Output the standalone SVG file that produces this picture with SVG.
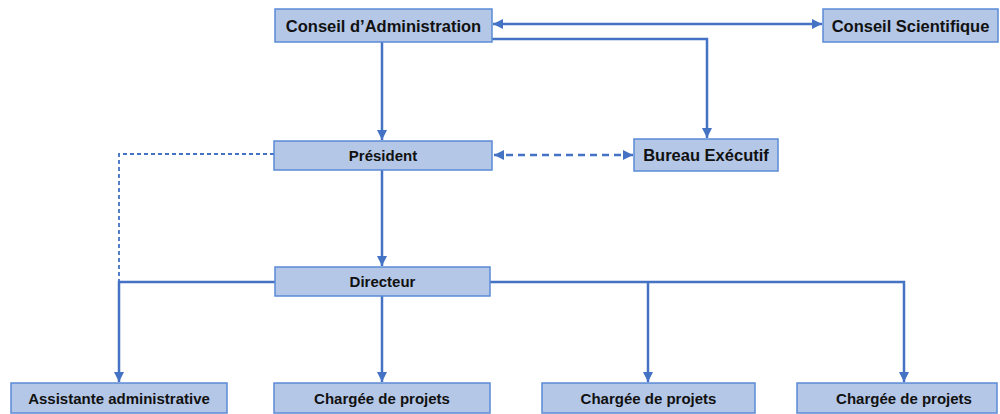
<svg xmlns="http://www.w3.org/2000/svg" width="1000" height="414" viewBox="0 0 1000 414">
<style>
.box{fill:#b4c7e7;stroke:#5b8bd6;stroke-width:1.5}
.t{font-family:"Liberation Sans",Arial,sans-serif;font-weight:bold;fill:#111;text-anchor:middle}
.big{font-size:16.5px}
.sm{font-size:15px}
.ln{fill:none;stroke:#4472c4;stroke-width:2.5}
.dash{fill:none;stroke:#4472c4;stroke-width:2.5;stroke-dasharray:7 5}
.dash2{fill:none;stroke:#4472c4;stroke-width:1.8;stroke-dasharray:4 3}
</style>
<defs>
<marker id="ah" viewBox="0 0 10 10" refX="10" refY="5" markerWidth="4" markerHeight="4" orient="auto-start-reverse" markerUnits="strokeWidth">
<path d="M0,0 L10,5 L0,10 z" fill="#4472c4"/>
</marker>
</defs>
<rect width="1000" height="414" fill="#ffffff"/>
<g id="connectors">
<line class="ln" x1="493" y1="24" x2="822" y2="24" marker-start="url(#ah)" marker-end="url(#ah)"/>
<polyline class="ln" points="492,39 707,39 707,138" marker-end="url(#ah)"/>
<line class="ln" x1="382" y1="42" x2="382" y2="140" marker-end="url(#ah)"/>
<line class="dash" x1="494" y1="155" x2="633" y2="155" marker-start="url(#ah)" marker-end="url(#ah)"/>
<polyline class="dash2" points="274,154 119,154 119,282"/>
<line class="ln" x1="382" y1="170" x2="382" y2="266" marker-end="url(#ah)"/>
<polyline class="ln" points="275,282 119,282 119,382" marker-end="url(#ah)"/>
<line class="ln" x1="382" y1="296" x2="382" y2="382" marker-end="url(#ah)"/>
<polyline class="ln" points="490,282 904,282 904,382" marker-end="url(#ah)"/>
<line class="ln" x1="648" y1="282" x2="648" y2="382" marker-end="url(#ah)"/>
</g>
<g id="ca"><rect class="box" x="275" y="9" width="217" height="33"/><text class="t big" x="383.5" y="31.5">Conseil d’Administration</text></g>
<g id="cs"><rect class="box" x="823" y="9" width="175" height="33"/><text class="t big" x="910.5" y="31.5">Conseil Scientifique</text></g>
<g id="president"><rect class="box" x="274" y="141" width="218" height="29"/><text class="t sm" x="383" y="161">Président</text></g>
<g id="bureau"><rect class="box" x="634" y="139" width="144" height="32"/><text class="t big" x="706" y="161">Bureau Exécutif</text></g>
<g id="directeur"><rect class="box" x="275" y="267" width="215" height="29"/><text class="t sm" x="382.5" y="287">Directeur</text></g>
<g id="assistante"><rect class="box" x="11" y="383" width="216" height="30"/><text class="t sm" x="119" y="403.5">Assistante administrative</text></g>
<g id="charge1"><rect class="box" x="274" y="383" width="216" height="30"/><text class="t sm" x="382" y="403.5">Chargée de projets</text></g>
<g id="charge2"><rect class="box" x="542" y="383" width="213" height="30"/><text class="t sm" x="648.5" y="403.5">Chargée de projets</text></g>
<g id="charge3"><rect class="box" x="797" y="383" width="200" height="30"/><text class="t sm" x="904" y="403.5">Chargée de projets</text></g>
</svg>
